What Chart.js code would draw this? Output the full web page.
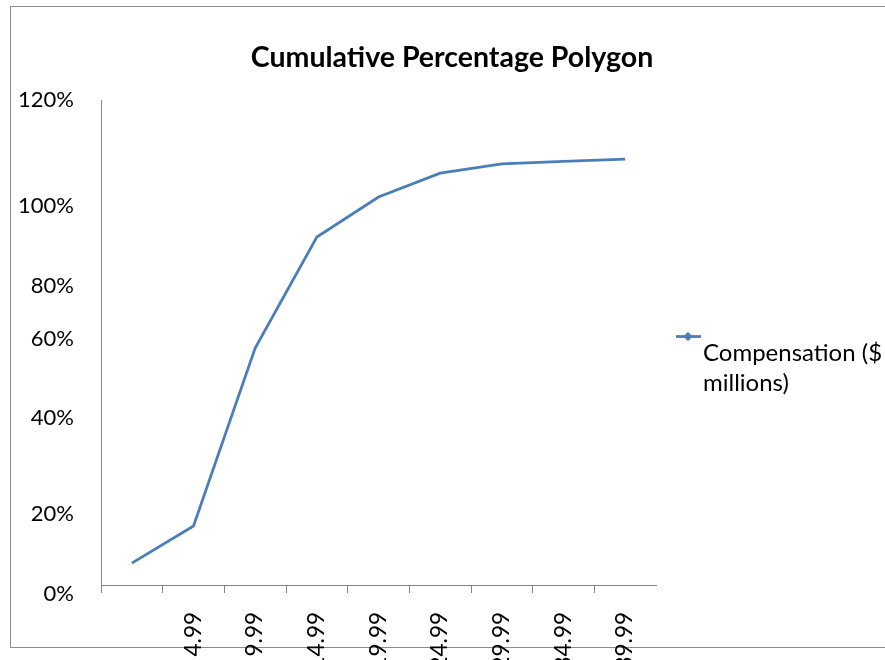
<!DOCTYPE html>
<html lang="en">
<head>
  <meta charset="UTF-8">
  <title>Cumulative Percentage Polygon</title>
  <script src="https://cdn.jsdelivr.net/npm/chart.js"></script>
  <style>
    html, body { margin: 0; padding: 0; overflow: hidden; background: #fff; }
    body { width: 885px; height: 660px; position: relative; font-family: 'Lato', sans-serif; }
    .frame { position: absolute; left: 10px; top: 6px; width: 890px; height: 640px; border: 1px solid #8c8c8c; }
    #chartPolygon { position: absolute; left: 0; top: 0; }
  </style>
</head>
<body>
  <div class="frame"></div>
  <canvas id="chartPolygon" width="885" height="720"></canvas>

  <script>
    const chartTitle = 'Cumulative Percentage Polygon';
    const seriesName = ['Compensation ($', 'millions)'];

    // class intervals (only the ends of the labels are visible in the original)
    const classes = ['', '0 - 4.99', '5 - 9.99', '10 - 14.99', '15 - 19.99',
                     '20 - 24.99', '25 - 29.99', '30 - 34.99', '35 - 39.99'];
    const cumulativePct = [5.4, 14.6, 58.6, 86.1, 96.0, 101.9, 104.2, 104.8, 105.4];

    // y labels sit where the original put them (spacing is not even there)
    const yTickValues = [-2.2, 17.6, 41.3, 60.9, 74.0, 93.8, 120];
    const yTickLabels = ['0%', '20%', '40%', '60%', '80%', '100%', '120%'];

    const axisGray = '#868686';
    const lineBlue = '#4A7EBB';

    // title + legend drawn by hand, excel style
    const decor = {
      id: 'decor',
      afterDraw(chart) {
        const ctx = chart.ctx;
        ctx.save();
        ctx.fillStyle = '#000';
        ctx.font = 'bold 28.5px Lato';
        ctx.textAlign = 'center';
        ctx.textBaseline = 'alphabetic';
        ctx.fillText(chartTitle, 452, 67);

        const ds = chart.data.datasets[0];
        ctx.strokeStyle = ds.borderColor;
        ctx.lineWidth = 2.75;
        ctx.beginPath();
        ctx.moveTo(676, 336.5);
        ctx.lineTo(701, 336.5);
        ctx.stroke();
        ctx.fillStyle = ds.borderColor;
        ctx.beginPath();
        ctx.moveTo(688, 332);
        ctx.lineTo(693, 336.5);
        ctx.lineTo(688, 341);
        ctx.lineTo(683, 336.5);
        ctx.closePath();
        ctx.fill();

        ctx.fillStyle = '#000';
        ctx.font = '24px Lato';
        ctx.textAlign = 'left';
        ds.label.forEach((t, i) => ctx.fillText(t, 703, 361 + i * 30));
        ctx.restore();
      }
    };

    // no tick mark at the far right end of the category axis
    const tickCol = c => (c.index === undefined ? 'rgba(0,0,0,0)' : axisGray);

    const ctx = document.getElementById('chartPolygon').getContext('2d');
    new Chart(ctx, {
      type: 'line',
      data: {
        labels: classes,
        datasets: [{
          label: seriesName,
          data: cumulativePct,
          borderColor: lineBlue,
          borderWidth: 2.75,
          pointRadius: 0,
          tension: 0,
          fill: false
        }]
      },
      options: {
        responsive: false,
        devicePixelRatio: 1,
        animation: false,
        layout: { padding: { top: 100, right: 229, bottom: 0, left: 0 } },
        plugins: {
          legend: { display: false },
          title: { display: false },
          tooltip: { enabled: false }
        },
        scales: {
          x: {
            type: 'category',
            offset: true,
            grid: { offset: true, drawOnChartArea: false, drawTicks: true, tickLength: 8, color: tickCol, tickColor: tickCol },
            border: { color: axisGray, width: 1 },
            ticks: {
              autoSkip: false,
              minRotation: 90,
              maxRotation: 90,
              padding: 19,
              color: '#000',
              font: { family: 'Lato', size: 22.5 }
            },
            afterFit(scale) { scale.height = 720 - 585; }
          },
          y: {
            min: 0,
            max: 120,
            grid: { display: false, drawTicks: false },
            border: { color: axisGray, width: 1 },
            afterBuildTicks(scale) {
              scale.ticks = yTickValues.map(v => ({ value: v }));
            },
            ticks: {
              autoSkip: false,
              padding: 27,
              color: '#000',
              font: { family: 'Lato', size: 22 },
              callback: (v, i) => yTickLabels[i]
            },
            afterFit(scale) { scale.width = 101; }
          }
        }
      },
      plugins: [decor]
    });
  </script>
</body>
</html>
